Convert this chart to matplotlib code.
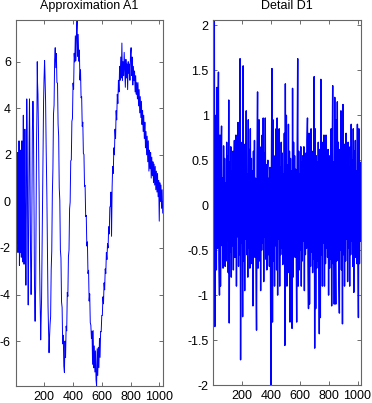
import numpy as np
import matplotlib
matplotlib.use("Agg")
import matplotlib.pyplot as plt
from matplotlib.ticker import FuncFormatter

plt.rcParams['font.family'] = ['Liberation Sans', 'DejaVu Sans']
plt.rcParams['axes.unicode_minus'] = False

# ---- Approximation A1: early (fast-oscillating) part, sample index / value ----
a1_fast_idx = [1, 2, 3, 5, 6, 8, 9, 11, 13, 15, 17, 19, 20, 22, 24, 26, 27, 30, 31, 33,
               35, 36, 38, 40, 42, 44, 46, 49, 51, 54, 56, 59, 62, 65, 68, 72, 75, 78, 80, 83,
               85, 88, 90, 92, 94, 97, 99, 102, 105, 108, 111, 114, 117, 121, 124, 128, 131, 133,
               136, 138, 140, 144, 146, 149, 151, 153, 156, 159, 164, 167, 170, 173, 175, 178,
               181, 184, 188, 191, 195, 198, 202, 205, 209, 213, 218, 222, 226, 230, 233, 236]
a1_fast_val = [0.2, 1.3, -0.9, 1.5, -0.5, 1.5, -1.8, 1.0, -1.3, 2.1, -2.2, 1.5, -0.4, -1.7, 2.6,
               0.5, -2.75, 2.0, -0.6, -2.2, 0.8, 2.2, -0.9, -2.4, 0.9, 2.6, 0.2, -2.6, 0.5, 3.7,
               0.3, -2.7, -0.2, 3.1, 0.4, -3.6, -0.5, 4.4, 3.2, 0.6, -2.2, -4.45, -3.0, 0.2, 2.5,
               4.4, 3.1, -0.3, -2.8, -4.0, -3.1, 0.4, 3.0, 4.3, 3.5, 0.3, -3.0, -4.3, -5.15, -4.2,
               -3.6, 0.2, 2.6, 4.0, 6.0, 5.1, 4.6, 3.2, 0.3, -2.5, -4.0, -5.0, -5.95, -5.1, -4.2,
               -2.3, 0.2, 2.2, 4.3, 5.2, 6.05, 5.4, 4.3, 2.3, 0.2, -2.4, -4.5, -5.6, -6.5, -5.9]

# ---- Approximation A1: later part, every 4th sample from 240 to 1024 ----
a1_slow_start, a1_slow_step = 240, 4
a1_slow_val = [
    -5.30, -4.95, -2.93, -2.12, 0.30, 1.40, 3.75, 4.13, 6.08, 6.60,
    5.74, 6.35, 5.10, 5.08, 3.32, 2.80, 0.58, 0.03, -2.09, -2.43,
    -4.32, -4.56, -6.12, -5.75, -7.08, -7.35, -6.00, -6.71, -5.36, -5.56,
    -3.91, -4.08, -2.37, -2.10, -0.32, -0.03, 1.74, 1.78, 3.44, 3.56,
    5.08, 4.82, 6.36, 5.99, 7.11, 6.04, 7.27, 7.79, 6.23, 7.17,
    6.02, 6.50, 5.21, 5.65, 4.45, 4.50, 3.22, 3.40, 2.06, 2.01,
    0.65, 0.69, -0.65, -0.60, -1.92, -1.74, -3.10, -2.96, -4.28, -3.97,
    -5.21, -5.32, -5.89, -5.57, -7.00, -5.55, -7.15, -6.21, -7.33, -6.42,
    -7.66, -7.93, -6.33, -7.48, -6.27, -7.14, -5.89, -6.70, -5.59, -5.60,
    -4.90, -4.90, -4.10, -4.40, -3.50, -3.80, -2.90, -3.10, -2.20, -2.50,
    -1.82, -2.00, -1.09, -1.40, -0.25, -0.20, 0.40, -1.50, 0.60, 1.50,
    1.20, 2.30, 2.00, 3.10, 2.70, 3.90, 3.50, 4.60, 4.20, 5.20,
    4.70, 5.80, 5.20, 6.20, 5.30, 6.80, 5.20, 6.00, 5.40, 6.40,
    5.60, 4.90, 6.10, 5.30, 5.90, 4.80, 6.00, 5.50, 5.90, 5.20,
    6.30, 6.60, 5.40, 6.20, 5.00, 5.80, 5.20, 5.60, 4.70, 5.40,
    4.60, 5.10, 4.40, 5.10, 4.10, 4.80, 3.80, 4.50, 3.60, 4.30,
    3.30, 3.90, 3.00, 3.70, 2.70, 3.40, 2.30, 3.00, 2.00, 2.80,
    1.70, 2.60, 1.30, 2.20, 1.40, 2.10, 1.00, 1.90, 1.10, 1.70,
    0.80, 1.60, 0.70, 1.50, 0.50, 1.30, 0.40, 1.20, 0.20, 0.90,
    -0.85, 0.80, 0.00, 0.70, -0.30, 0.50, -0.50]

# ---- Detail D1 (evenly spread over samples 1..1024) ----
d1_val = [
    0.35, -0.55, 2.06, -1.35, 0.62, 1.00, -0.72, 1.31, -0.48, 0.85, 1.48, -0.60,
    -1.00, 0.78, -0.90, 0.42, 0.88, -0.45, 0.30, -0.70, 0.66, -0.35, 0.52, -0.68,
    0.25, -0.62, 0.70, -0.40, 0.55, -0.75, 1.17, -1.31, 0.48, -0.52, 0.65, -0.80,
    0.38, -0.45, 0.60, -0.72, 0.28, 0.72, -0.58, 0.45, 0.78, -0.90, 0.55, -0.35,
    0.92, -0.68, 0.40, -0.55, 1.63, -1.72, 0.58, -0.42, 0.70, -1.24, 1.55, -0.62,
    0.45, -0.95, 0.68, -0.38, 1.05, -0.55, 0.35, -0.80, 0.95, -0.48, 0.62, -0.70,
    0.85, -0.40, 0.52, -0.65, 0.38, -1.12, 0.60, -0.45, 0.72, -0.58, 0.30, -0.75,
    -1.39, 0.55, 1.26, -0.70, 0.48, 0.95, -0.62, 0.40, -0.95, 0.65, -0.50, 0.78,
    -0.42, 0.97, -0.85, 0.58, -0.35, 0.97, -0.60, 0.45, -0.72, 0.38, 0.50, -0.55,
    0.30, -0.68, 0.42, -0.50, -2.00, 0.48, 1.52, -1.30, 0.95, -0.62, 0.40, -0.90,
    0.55, -0.45, 0.85, -0.72, 0.97, -1.00, 0.60, -0.38, 0.85, -0.90, 0.42, -0.55,
    0.70, -0.48, 0.58, -0.66, 0.35, -0.52, 0.80, -1.56, 1.35, -0.60, 1.00, -0.90,
    0.45, -0.75, 0.90, -0.42, 0.60, -1.30, 0.52, -0.65, 0.38, -1.37, 1.30, -0.80,
    0.70, -0.45, 0.55, -0.58, 0.40, -0.35, -1.30, 0.62, 1.63, -0.90, 0.60, -0.72,
    0.35, -0.50, 0.65, -0.90, 0.48, -0.62, 0.55, -0.40, 0.65, -0.95, 0.42, -0.55,
    0.58, -0.48, 0.72, 0.97, -0.60, -1.15, 0.80, -1.10, 0.45, -0.68, 0.85, -0.52,
    0.60, -0.75, 0.38, -0.60, 1.43, -1.59, 0.85, -1.15, 0.55, -0.70, 0.48, -0.62,
    0.70, -0.50, -1.43, 0.62, -1.25, 1.40, -0.55, 0.45, -0.90, 0.70, -0.42, 0.78,
    -0.90, 0.52, -0.65, 0.78, -0.48, 0.40, -0.58, 0.62, -1.00, 0.55, -0.70, 0.45,
    -0.60, 0.85, -1.12, 0.50, 1.33, -0.65, 0.48, -1.10, 1.20, -0.55, -1.10, 0.95,
    -0.62, 1.15, -0.48, 0.70, -0.85, -1.20, 0.62, -0.50, 1.05, -0.72, 0.40, -1.32,
    1.12, -0.55, 0.68, -0.90, 0.45, -0.62, 0.80, -0.38, 0.55, -0.85, 0.70, -0.48,
    0.42, -0.90, 0.65, -0.55, 0.90, -0.40, 0.50, -0.68, 0.85, -0.97, 0.60, -0.45,
    0.72, -0.58, 0.38, -0.65, 0.90, -0.50, -1.25, 0.85, -0.65, 0.48, -0.40, 0.42]

n_samples = 1024
titles = ["Approximation A1", "Detail D1"]
x_ticks = [200, 400, 600, 800, 1000]
a1_yticks = [-6, -4, -2, 0, 2, 4, 6]
d1_yticks = [-2, -1.5, -1, -0.5, 0, 0.5, 1, 1.5, 2]

# assemble series
a1_slow_idx = np.arange(a1_slow_start, a1_slow_start + a1_slow_step * len(a1_slow_val), a1_slow_step)
a1_x = np.concatenate([np.array(a1_fast_idx, float), a1_slow_idx])
a1_y = np.concatenate([np.array(a1_fast_val), np.array(a1_slow_val)])
d1_x = np.linspace(1, n_samples, len(d1_val))
d1_y = np.array(d1_val)

W, H, DPI = 372, 403, 100
fig = plt.figure(figsize=(W / DPI, H / DPI), dpi=DPI)

def px_axes(left, top, right, bottom):
    return fig.add_axes([left / W, 1 - bottom / H, (right - left) / W, (bottom - top) / H])

ax1 = px_axes(15.7, 20, 162.7, 386)
ax2 = px_axes(213.3, 20, 361, 385)

fmt = FuncFormatter(lambda v, p: f"{v:g}")
line_col = '#0000ff'

for ax, x, y, title, yt, lw in [(ax1, a1_x, a1_y, titles[0], a1_yticks, 0.7),
                                (ax2, d1_x, d1_y, titles[1], d1_yticks, 1.0)]:
    ax.plot(x, y, color=line_col, lw=lw)
    ax.set_xlim(1, n_samples)
    ax.set_ylim(y.min(), y.max())
    ax.set_xticks(x_ticks)
    ax.set_yticks(yt)
    ax.xaxis.set_major_formatter(fmt)
    ax.yaxis.set_major_formatter(fmt)
    ax.tick_params(direction='in', top=True, right=True, length=3, width=0.6,
                   pad=3.4, labelsize=9, color='#555555')
    for s in ax.spines.values():
        s.set_color('#666666')
        s.set_linewidth(0.8)
    ax.set_title(title, fontsize=9, pad=7.6)

fig.savefig("out.png", dpi=DPI)
